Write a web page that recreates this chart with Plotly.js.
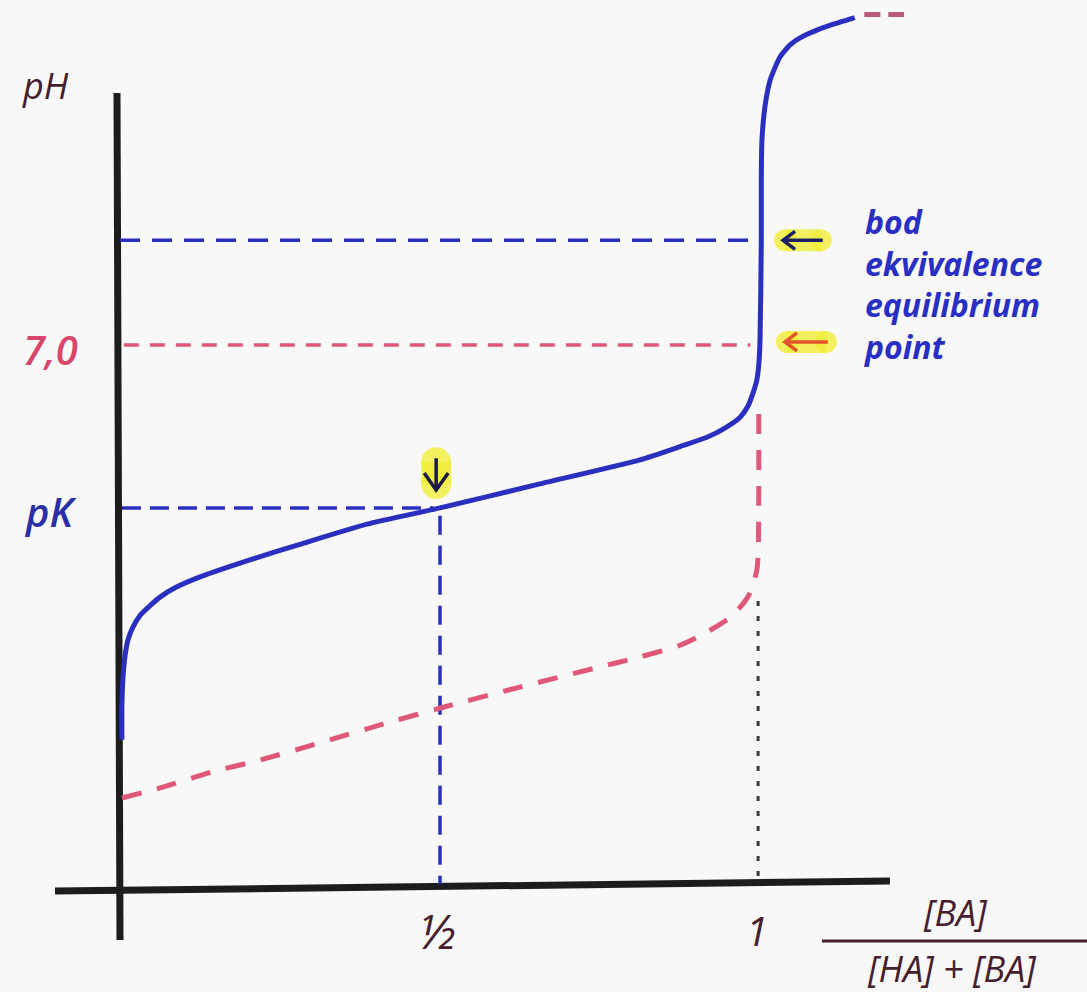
<!DOCTYPE html>
<html>
<head>
<meta charset="utf-8">
<script src="https://cdn.plot.ly/plotly-3.0.1.min.js"></script>
<style>
  html, body { margin: 0; padding: 0; background: #f8f8f8; }
  #chart { width: 1087px; height: 992px; }
</style>
</head>
<body>
<div id="chart"></div>
<script>
// Titration curves: pH against the degree of neutralisation [BA]/([HA]+[BA])

// weak acid HA titrated with a strong base (solid blue curve)
const weakAcidX  = [0.003, 0.003, 0.005, 0.008, 0.0125, 0.020, 0.031, 0.047, 0.0625, 0.086, 0.125,
                    0.203, 0.281, 0.386, 0.500, 0.656, 0.8125, 0.875, 0.917, 0.945, 0.969, 0.981,
                    0.989, 0.995, 0.998, 1.000, 1.002, 1.002, 1.003, 1.008, 1.016, 1.031, 1.047,
                    1.0625, 1.086, 1.109, 1.148];
const weakAcidPH = [1.91, 2.36, 2.75, 3.00, 3.20, 3.36, 3.51, 3.64, 3.75, 3.87, 4.01,
                    4.23, 4.43, 4.69, 4.90, 5.21, 5.52, 5.69, 5.81, 5.93, 6.07, 6.21,
                    6.38, 6.55, 6.74, 7.06, 8.35, 9.13, 9.64, 10.09, 10.42, 10.71, 10.87,
                    10.96, 11.05, 11.12, 11.22];

// strong acid for comparison (dashed red curve) and its continuation past the jump
const strongAcidX  = [0.003, 0.067, 0.145, 0.219, 0.328, 0.422, 0.505, 0.625, 0.745, 0.8125, 0.875,
                      0.917, 0.950, 0.969, 0.980, 0.9875, 0.995, 0.997, 0.998, 0.998];
const strongAcidPH = [1.16, 1.30, 1.50, 1.65, 1.91, 2.14, 2.33, 2.59, 2.84, 2.98, 3.13,
                      3.30, 3.47, 3.62, 3.74, 3.87, 4.10, 4.29, 5.00, 6.27];
const strongTailX  = [1.163, 1.225];
const strongTailPH = [11.26, 11.26];

// characteristic values
const pK = 4.9;
const pHEquivalence = 8.35;
const pHNeutral = 7.0;
const halfPoint = 0.5;
const fullPoint = 1.0;

// tick labels
const xTickVals = [halfPoint, fullPoint];
const xTickText = ['½', '1'];
const xTickSizes = [48, 40];
const yTickVals = [pHNeutral, pK];
const yTickText = ['7,0', 'pK'];
const yTickColors = ['#d8476b', '#2b2fa6'];
const noteLines = ['bod', 'ekvivalence', 'equilibrium', 'point'];
const xTitleTop = '[BA]';
const xTitleBottom = '[HA] + [BA]';
const yTitle = 'pH';

// visible window in data units (full page, no margins)
const W = 1087, H = 992;
const xRange = [-0.1875, 1.5109];
const yRange = [-1.3407, 11.4477];
const pxX = (xRange[1] - xRange[0]) / W;   // data units per pixel
const pxY = (yRange[1] - yRange[0]) / H;

const BLUE = '#2a2fbf';
const RED = '#e05878';
const INK = '#45202c';
const GLOW = 'rgba(240,238,55,0.8)';

function line(x, y, color, width, dash, shape, smoothing) {
  return {
    type: 'scatter', mode: 'lines', x: x, y: y, hoverinfo: 'skip', showlegend: false,
    line: { color: color, width: width, dash: dash || 'solid', shape: shape || 'linear',
            smoothing: smoothing === undefined ? 1 : smoothing }
  };
}
// thick highlighter stroke with rounded ends
function glow(x, y, width) {
  return {
    type: 'scatter', mode: 'lines+markers', x: x, y: y, hoverinfo: 'skip', showlegend: false,
    line: { color: GLOW, width: width },
    marker: { color: GLOW, size: width, line: { width: 0 } }
  };
}

// left-pointing arrow with a highlighter glow, tip at (xt, yt)
function leftArrow(xt, yt, len, color) {
  const hx = 12 * pxX, hy = 9 * pxY;
  const xs = [xt + hx, xt, xt + hx, null, xt, xt + len];
  const ys = [yt + hy, yt, yt - hy, null, yt, yt];
  return [glow([xt + 2 * pxX, xt + len - 2 * pxX], [yt, yt], 22),
          line(xs, ys, color, 3.5)];
}
// down-pointing arrow, tip at (xt, yt)
function downArrow(xt, yt, len, color) {
  const hx = 12 * pxX, hy = 17 * pxY;
  const xs = [xt - hx, xt, xt + hx, null, xt, xt];
  const ys = [yt + hy, yt, yt + hy, null, yt, yt + len];
  return [glow([xt, xt], [yt + 6 * pxY, yt + len - 4 * pxY], 30),
          line(xs, ys, color, 3.5)];
}

const traces = [];

// axes drawn by hand
traces.push(line([-3 * pxX, 0], [10.25, -0.67], '#1d1d1d', 7));
traces.push(line([-0.1016, 1.203], [-0.04, 0.09], '#1d1d1d', 7));

// guide lines
traces.push(line([0, 0.9875], [pHEquivalence, pHEquivalence], BLUE, 3.5, '20px,12px'));
traces.push(line([0.006, 0.985], [pHNeutral, pHNeutral], RED, 3.5, '15px,11px'));
traces.push(line([0.003, halfPoint - 0.01], [pK, pK], BLUE, 3.5, '19px,9px'));
traces.push(line([halfPoint, halfPoint], [pK - 0.1, 0.05], BLUE, 3.5, '19px,11px'));
traces.push(line([fullPoint - 0.003, fullPoint - 0.003], [3.7, 0.12], '#3a3a3a', 3, '5px,10px'));

// curves
traces.push(line(strongAcidX, strongAcidPH, RED, 5, '20px,16px', 'spline', 0.8));
traces.push(line(strongTailX, strongTailPH, '#b85a78', 5, '16px,8px'));
traces.push(line(weakAcidX, weakAcidPH, BLUE, 5, 'solid', 'spline', 0.55));

// pointers
leftArrow(fullPoint + 0.036, pHEquivalence, 0.062, '#1c2066').forEach(t => traces.push(t));
leftArrow(fullPoint + 0.039, pHNeutral + 0.04, 0.067, '#e2532e').forEach(t => traces.push(t));
downArrow(halfPoint - 0.006, pK + 0.23, 0.41, '#1a1a44').forEach(t => traces.push(t));

const handFont = (size, color, weight) => ({
  family: 'Open Sans, DejaVu Sans, sans-serif', size: size, color: color,
  style: 'italic', weight: weight || 600
});
const label = (xref, yref, x, y, text, font, xanchor) => ({
  xref: xref, yref: yref, x: x, y: y, text: text, showarrow: false,
  xanchor: xanchor || 'center', yanchor: 'middle', font: font
});

const annotations = [];
annotations.push(label('paper', 'paper', 45 / W, 1 - 85 / H, yTitle, handFont(36, INK, 500)));
yTickVals.forEach((v, i) => annotations.push(
  label('paper', 'y', 50 / W, v - 4 * pxY, yTickText[i], handFont(40, yTickColors[i], 600))));
xTickVals.forEach((v, i) => annotations.push(
  label('x', 'paper', v - 3 * pxX, 1 - 930 / H, xTickText[i], handFont(xTickSizes[i], INK, 500))));
annotations.push(label('paper', 'paper', 955 / W, 1 - 912 / H, xTitleTop, handFont(36, INK, 500)));
annotations.push(label('paper', 'paper', 952 / W, 1 - 968 / H, xTitleBottom, handFont(36, INK, 500)));
// the four-line note beside the equivalence jump
annotations.push(Object.assign(
  label('paper', 'paper', 861 / W, 1 - 284 / H, noteLines.join('<br>'), handFont(32, '#2a2fc4', 700), 'left'),
  { align: 'left' }));

const shapes = [{
  type: 'line', xref: 'paper', yref: 'paper', x0: 822 / W, x1: 1, y0: 1 - 941 / H, y1: 1 - 941 / H,
  line: { color: INK, width: 3 }
}];

const layout = {
  width: W, height: H,
  margin: { l: 0, r: 0, t: 0, b: 0 },
  paper_bgcolor: '#f8f8f8', plot_bgcolor: '#f8f8f8',
  xaxis: { range: xRange, visible: false, fixedrange: true },
  yaxis: { range: yRange, visible: false, fixedrange: true },
  showlegend: false,
  annotations: annotations,
  shapes: shapes
};

Plotly.newPlot('chart', traces, layout, { staticPlot: true, displayModeBar: false });
</script>
</body>
</html>
